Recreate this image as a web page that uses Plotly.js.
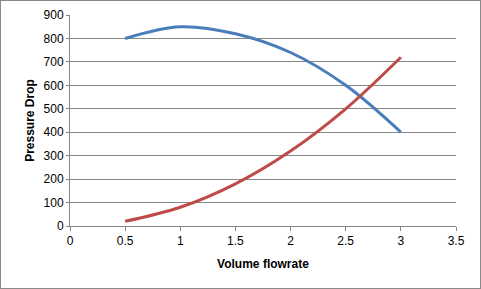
<!DOCTYPE html>
<html>
<head>
<meta charset="utf-8">
<script src="https://cdn.plot.ly/plotly-3.0.1.min.js"></script>
<style>
html,body{margin:0;padding:0;background:#fff;}
#wrap{width:481px;height:289px;box-sizing:border-box;border:1px solid #8a8a8a;overflow:hidden;}
#chart{width:479px;height:287px;}
</style>
</head>
<body>
<div id="wrap"><div id="chart"></div></div>
<script>
const flowrate = [0.5, 1, 1.5, 2, 2.5, 3];
const pumpPressure = [800, 850, 820, 740, 600, 400];
const systemPressure = [20, 80, 180, 320, 500, 720];
const xTicks = [0, 0.5, 1, 1.5, 2, 2.5, 3, 3.5];
const yTicks = [0, 100, 200, 300, 400, 500, 600, 700, 800, 900];

const traces = [
  {x: flowrate, y: pumpPressure, mode: 'lines', name: 'Pump',
   line: {color: '#4a7ebb', width: 3, shape: 'spline', smoothing: 1}},
  {x: flowrate, y: systemPressure, mode: 'lines', name: 'System',
   line: {color: '#be4b48', width: 3, shape: 'spline', smoothing: 1}}
];

const font = {family: 'Liberation Sans, Arial, sans-serif', size: 12, color: '#000'};

const layout = {
  width: 479, height: 287,
  margin: {l: 68.5, r: 23.5, t: 13.5, b: 61.5},
  paper_bgcolor: '#fff', plot_bgcolor: '#fff',
  showlegend: false,
  font: font,
  xaxis: {
    range: [0, 3.5], tickvals: xTicks, ticktext: xTicks.map(String),
    showgrid: false, zeroline: false,
    showline: true, linecolor: '#868686', linewidth: 1,
    ticks: 'outside', ticklen: 4, tickcolor: '#868686',
    tickfont: font,
    title: {text: '<b>Volume flowrate</b>', font: {family: font.family, size: 12, color: '#000'}, standoff: 12}
  },
  yaxis: {
    range: [0, 900], tickvals: yTicks, ticktext: yTicks.map(String),
    showgrid: true, gridcolor: '#868686', gridwidth: 1, zeroline: false,
    showline: true, linecolor: '#868686', linewidth: 1,
    ticks: 'outside', ticklen: 3, tickcolor: '#868686',
    tickfont: font,
    title: {text: '<b>Pressure Drop</b>', font: {family: font.family, size: 12, color: '#000'}, standoff: 6}
  }
};

Plotly.newPlot('chart', traces, layout, {displayModeBar: false, staticPlot: true});
</script>
</body>
</html>
